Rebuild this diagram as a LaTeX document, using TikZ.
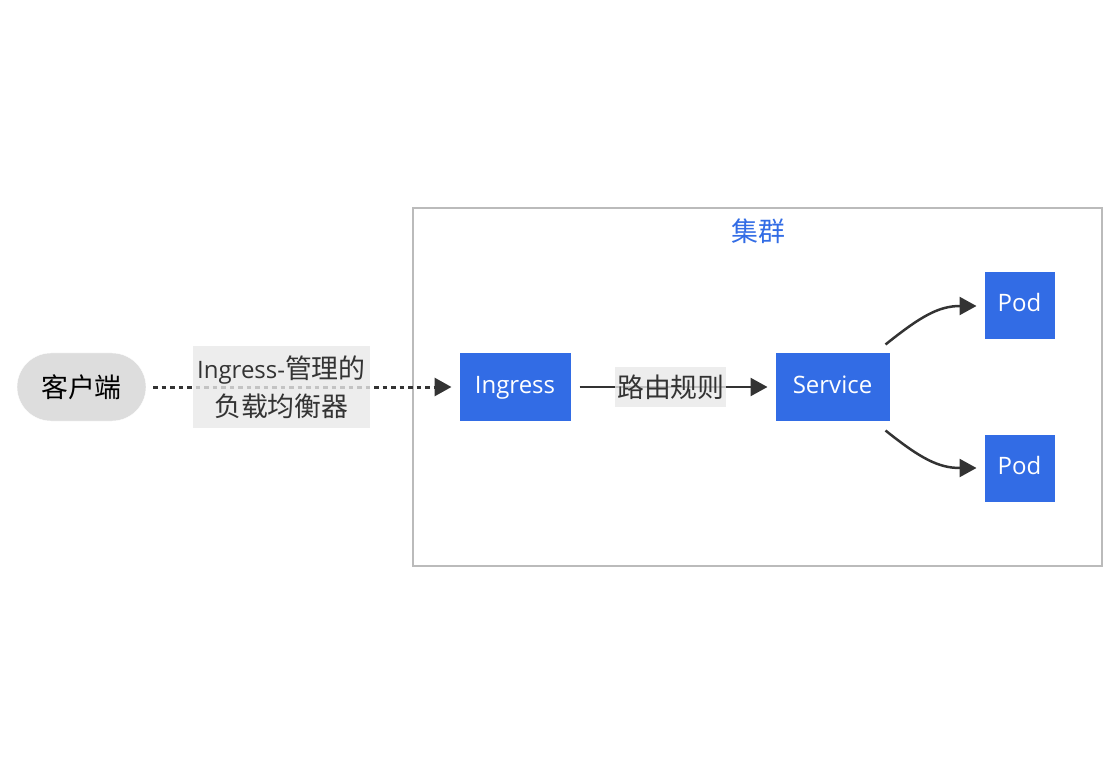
\documentclass[tikz,border=0pt]{standalone}
\usepackage{fontspec}
\setmainfont{Open Sans}
\newfontfamily\cjk{Noto Sans CJK SC}[Scale=1.12]
\usetikzlibrary{arrows.meta,calc}
\definecolor{k8s}{HTML}{326CE5}
\definecolor{plain}{HTML}{DDDDDD}
\definecolor{edge}{HTML}{333333}
\definecolor{clus}{HTML}{BBBBBB}
\definecolor{lbl}{HTML}{E8E8E8}
\tikzset{
  k8sbox/.style={fill=k8s, draw=white, line width=1pt, text=white, minimum height=68pt, inner sep=0pt, text height=17pt, text depth=5pt, font=\fontsize{24}{28}\selectfont},
  plainbox/.style={fill=plain, draw=white, text=black, minimum height=68pt, minimum width=129pt, rounded corners=34pt, inner sep=0pt, font=\fontsize{24}{28}\selectfont},
  edgelbl/.style={fill=lbl, fill opacity=0.8, text opacity=1, text=edge, inner sep=0pt, align=center, font=\fontsize{24}{38}\selectfont},
  tip/.style={-{Triangle[length=17pt,width=18pt]}},
  conn/.style={draw=edge, line width=2.5pt, tip},
}
\begin{document}
\begin{tikzpicture}[x=1pt,y=-1pt]
\useasboundingbox (0,0) rectangle (1116,775);
% cluster
\node[draw=clus, line width=2pt, minimum width=689pt, minimum height=358pt, inner sep=0pt] (cluster) at (757.5,387) {};
\node[text=k8s, font=\fontsize{24}{28}\selectfont\cjk, anchor=center] (clustertitle) at (758,231) {集群};
% nodes
\node[plainbox] (client) at (81.5,387) {\cjk 客户端};
\node[k8sbox, minimum width=112pt] (ingress) at (515,387) {Ingress};
\node[k8sbox, minimum width=115pt] (service) at (832.5,387) {Service};
\node[k8sbox, minimum width=71pt] (pod1) at (1019.5,306) {Pod};
\node[k8sbox, minimum width=71pt] (pod2) at (1019.5,468) {Pod};
% edges
\draw[conn, line width=3pt, dash pattern=on 4.5pt off 4pt, shorten <=7pt, shorten >=7pt] (client) -- (ingress)
  node[edgelbl, pos=0.433, minimum width=177pt, minimum height=81pt] (lb) {Ingress-{\cjk 管理的}\\{\cjk 负载均衡器}};
\draw[conn, shorten <=8pt, shorten >=7pt] (ingress) -- (service)
  node[edgelbl, pos=0.49, minimum width=111pt, minimum height=40pt] (rule) {\cjk 路由规则};
\coordinate (s1) at ($(service.north east)+(-5,-8)$);
\coordinate (s2) at ($(service.south east)+(-5,9)$);
\draw[conn, shorten >=7pt] (s1) .. controls ($(s1)+(35,-28)$) and ($(pod1.west)+(-45,0)$) .. (pod1.west);
\draw[conn, shorten >=7pt] (s2) .. controls ($(s2)+(35,28)$) and ($(pod2.west)+(-45,0)$) .. (pod2.west);
\end{tikzpicture}
\end{document}
